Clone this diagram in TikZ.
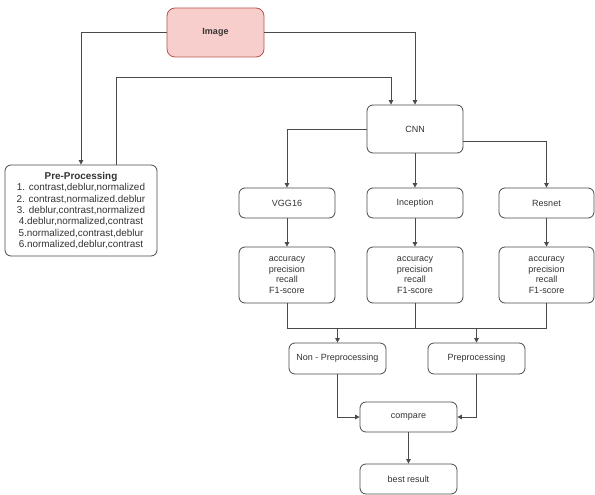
\documentclass[tikz,border=0pt]{standalone}
\usepackage{fontspec}
\setmainfont{Liberation Sans}
\usetikzlibrary{arrows.meta}
\definecolor{imgfill}{HTML}{F8CECC}
\definecolor{imgdraw}{HTML}{B85450}
\definecolor{ln}{HTML}{4A4A4A}
\definecolor{tx}{HTML}{333333}
\begin{document}
\begin{tikzpicture}[x=1pt,y=-1pt,
  box/.style={draw=ln, line width=0.8pt, rounded corners=6pt, fill=white, align=center, inner sep=0pt,
    text=tx, font=\fontsize{9}{10.6}\selectfont},
  wire/.style={draw=ln, line width=0.8pt},
  arr/.style={wire, -{Triangle[length=4.5pt,width=4.5pt]}}]
\useasboundingbox (0,0) rectangle (595,495);
\node[box, draw=imgdraw, fill=imgfill, rounded corners=8pt, minimum width=97pt, minimum height=49pt, font=\bfseries\fontsize{9}{11}\selectfont] (img) at (215.5,32.5) {Image};
\node[box, minimum width=96pt, minimum height=48pt] (cnn) at (415,129) {CNN};
\node[box, minimum width=152pt, minimum height=91pt, font=\fontsize{9.9}{11.3}\selectfont] (pre) at (81,210.5)
  {{\bfseries Pre-Processing}\\1. contrast,deblur,normalized\\2. contrast,normalized.deblur\\3. deblur,contrast,normalized\\4.deblur,normalized,contrast\\5.normalized,contrast,deblur\\6.normalized,deblur,contrast};
\node[box, minimum width=96pt, minimum height=30pt] (vgg) at (287,203) {VGG16};
\node[box, minimum width=96pt, minimum height=30pt] (inc) at (415,203) {Inception};
\node[box, minimum width=95pt, minimum height=30pt] (res) at (546.5,203) {Resnet};
\node[box, minimum width=96pt, minimum height=56pt] (m1) at (287,275) {accuracy\\precision\\recall\\F1-score};
\node[box, minimum width=96pt, minimum height=56pt] (m2) at (415,275) {accuracy\\precision\\recall\\F1-score};
\node[box, minimum width=95pt, minimum height=56pt] (m3) at (546.5,275) {accuracy\\precision\\recall\\F1-score};
\node[box, minimum width=97pt, minimum height=31pt] (np) at (337.5,358.5) {Non - Preprocessing};
\node[box, minimum width=97pt, minimum height=31pt] (pp) at (476.5,358.5) {Preprocessing};
\node[box, minimum width=97pt, minimum height=30pt] (cmp) at (408.5,417) {compare};
\node[box, minimum width=97pt, minimum height=30pt] (best) at (408.5,479) {best result};
\coordinate (p1) at (116,77);
\coordinate (bus) at (0,328);
\draw[arr] (img.west) -| (pre.north);
\draw[arr] (img.east) -| (cnn.north);
\draw[arr] (pre.north -| p1) -- (p1) -| ([xshift=-24pt]cnn.north);
\draw[arr] (cnn.west) -| (vgg.north);
\draw[arr] ([yshift=-12pt]cnn.east) -| (res.north);
\draw[arr] (cnn.south) -- (inc.north);
\draw[arr] (vgg.south) -- (m1.north);
\draw[arr] (inc.south) -- (m2.north);
\draw[arr] (res.south) -- (m3.north);
\draw[wire] (m1.south) -- (m1.south |- bus) -- (m3.south |- bus) -- (m3.south);
\draw[wire] (m2.south) -- (m2.south |- bus);
\draw[arr] (np.north |- bus) -- (np.north);
\draw[arr] (pp.north |- bus) -- (pp.north);
\draw[arr] (np.south) |- (cmp.west);
\draw[arr] (pp.south) |- (cmp.east);
\draw[arr] (cmp.south) -- (best.north);
\end{tikzpicture}
\end{document}
